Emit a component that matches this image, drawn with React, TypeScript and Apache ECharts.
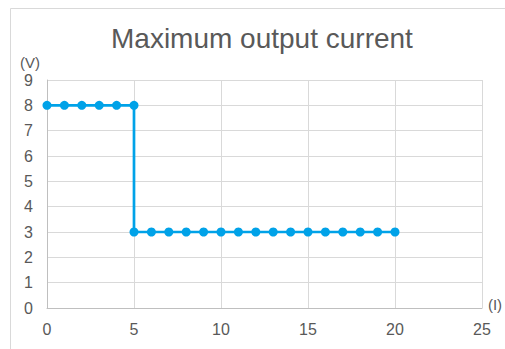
import React, { useEffect, useRef } from "react";
import * as echarts from "echarts";

const titleText = "Maximum output current";
const highX = [0, 1, 2, 3, 4, 5];
const highY = [8, 8, 8, 8, 8, 8];
const lowX = [5, 6, 7, 8, 9, 10, 11, 12, 13, 14, 15, 16, 17, 18, 19, 20];
const lowY = [3, 3, 3, 3, 3, 3, 3, 3, 3, 3, 3, 3, 3, 3, 3, 3];
const yName = "(V)";
const xName = "(I)";

export default function App() {
  const ref = useRef<HTMLDivElement>(null);
  useEffect(() => {
    if (!ref.current) return;
    const chart = echarts.init(ref.current, undefined, { renderer: "svg" });
    const data = [
      ...highX.map((x, i) => [x, highY[i]]),
      ...lowX.map((x, i) => [x, lowY[i]]),
    ];
    const textColor = "#595959";
    const font = "Liberation Sans, Arial, sans-serif";
    chart.setOption({
      animation: false,
      backgroundColor: "#ffffff",
      title: {
        text: titleText,
        left: 111,
        top: 24,
        padding: 0,
        textStyle: { color: textColor, fontSize: 28, fontWeight: "normal", fontFamily: font },
      },
      grid: { left: 47, right: 23, top: 80, bottom: 41 },
      xAxis: {
        type: "value",
        min: 0,
        max: 25,
        interval: 5,
        axisLine: { show: true, lineStyle: { color: "#bfbfbf" } },
        axisTick: { show: false },
        axisLabel: { color: textColor, fontSize: 16, fontFamily: font, margin: 13 },
        splitLine: { show: true, lineStyle: { color: "#d9d9d9" } },
      },
      yAxis: {
        type: "value",
        min: 0,
        max: 9,
        interval: 1,
        axisLine: { show: true, lineStyle: { color: "#bfbfbf" } },
        axisTick: { show: false },
        axisLabel: { color: textColor, fontSize: 16, fontFamily: font, margin: 14 },
        splitLine: { show: true, lineStyle: { color: "#d9d9d9" } },
      },
      graphic: [
        {
          type: "rect",
          shape: { x: 10.5, y: 8.5, width: 510, height: 360 },
          style: { fill: "none", stroke: "#d9d9d9", lineWidth: 1 },
          silent: true,
        },
        {
          type: "text",
          x: 30,
          y: 62,
          style: { text: yName, fill: textColor, fontSize: 15, fontFamily: font, align: "center", verticalAlign: "middle" },
        },
        {
          type: "text",
          x: 495,
          y: 304,
          style: { text: xName, fill: textColor, fontSize: 15, fontFamily: font, align: "center", verticalAlign: "middle" },
        },
      ],
      series: [
        {
          type: "line",
          data,
          symbol: "circle",
          symbolSize: 9,
          lineStyle: { color: "#00a2e8", width: 2.7 },
          itemStyle: { color: "#00a2e8" },
        },
      ],
    });
    return () => chart.dispose();
  }, []);
  return <div ref={ref} style={{ position: "fixed", left: 0, top: 0, width: 505, height: 349 }} />;
}
